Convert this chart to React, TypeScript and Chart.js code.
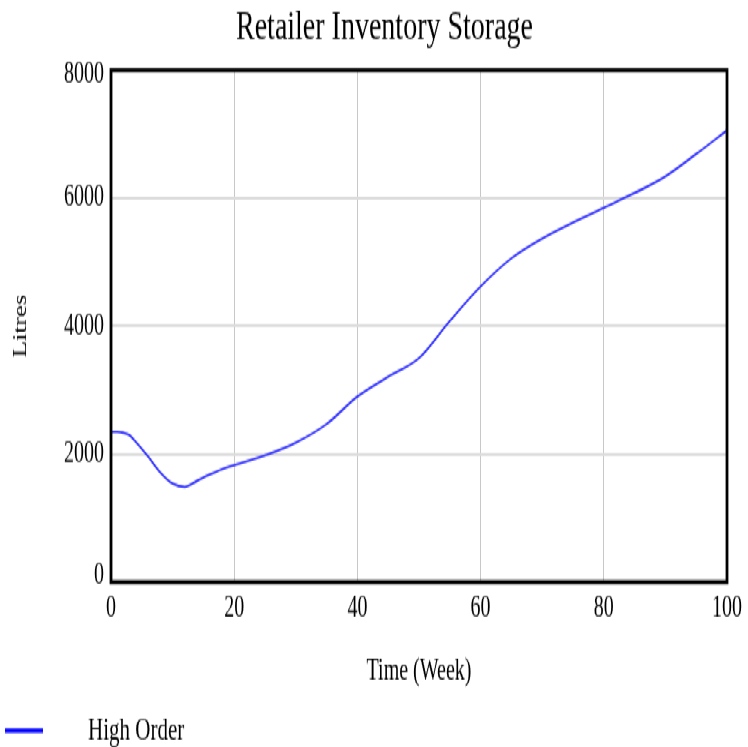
import React, { useEffect, useRef } from "react";
import { Chart, registerables } from "chart.js";

Chart.register(...registerables);

// Simulation output: retailer inventory (litres) over time (weeks)
const weeks = [0, 1, 2, 3, 4, 6, 8, 10, 12, 14, 16, 18, 20, 25, 30, 35, 40, 45, 50, 55, 60, 65, 70, 75, 80, 85, 90, 95, 100];
const highOrder = [2350, 2350, 2335, 2295, 2195, 1965, 1715, 1540, 1490, 1585, 1680, 1765, 1830, 1980, 2180, 2470, 2900, 3210, 3500, 4080, 4620, 5060, 5370, 5620, 5850, 6080, 6340, 6690, 7060];
const seriesName = "High Order";
const titleText = "Retailer Inventory Storage";
const xTitle = "Time (Week)";
const yTitle = "Litres";
const xTickValues = [0, 20, 40, 60, 80, 100];
const yTickValues = [0, 2000, 4000, 6000, 8000];

const SERIF = '"Liberation Serif", "Times New Roman", serif';
const W = 748;
const H = 498;
const STRETCH = 1.5;

// Draws the black frame around the plot and the key under the axes
const frameAndKey = {
  id: "frameAndKey",
  afterDraw(chart: any) {
    const { ctx, chartArea: a } = chart;
    ctx.save();
    ctx.strokeStyle = "#000";
    ctx.lineWidth = 2.8;
    ctx.strokeRect(a.left, a.top, a.right - a.left, a.bottom - a.top);

    const ds = chart.data.datasets[0];
    const ky = chart.height - 11;
    ctx.strokeStyle = "#0000ff";
    ctx.lineWidth = 2.9;
    ctx.beginPath();
    ctx.moveTo(5, ky);
    ctx.lineTo(43, ky);
    ctx.stroke();
    ctx.font = `21px ${SERIF}`;
    ctx.fillStyle = "#000";
    ctx.textBaseline = "middle";
    ctx.textAlign = "left";
    ctx.fillText(ds.label, 88, ky);
    ctx.restore();
  },
};

const yMin = yTickValues[0];
const yMax = yTickValues[yTickValues.length - 1];

// End labels are nudged inside the frame: an empty line above the top
// label and below the bottom one, with a small line height
const yTickLabel = (v: any) => {
  const s = String(v);
  if (v === yMax) return ["", s];
  if (v === yMin) return [s, ""];
  return s;
};
const yTickFont = (c: any) => {
  const v = c.tick ? c.tick.value : null;
  const lineHeight = v === yMax ? 0.27 : v === yMin ? 0.4 : 1.2;
  return { family: SERIF, size: 20, lineHeight };
};

export default function App() {
  const canvasRef = useRef<HTMLCanvasElement | null>(null);

  useEffect(() => {
    const canvas = canvasRef.current;
    if (!canvas) return;
    const chart = new Chart(canvas, {
      type: "line",
      data: {
        datasets: [
          {
            label: seriesName,
            data: weeks.map((w, i) => ({ x: w, y: highOrder[i] })),
            borderColor: "rgb(45,45,255)",
            borderWidth: 1.6,
            pointRadius: 0,
            fill: false,
            cubicInterpolationMode: "monotone",
          },
        ],
      },
      options: {
        responsive: false,
        animation: false,
        devicePixelRatio: 1,
        layout: { padding: { left: 42, right: 21, top: 0, bottom: 30 } },
        plugins: {
          legend: { display: false },
          tooltip: { enabled: false },
          title: {
            display: true,
            text: titleText,
            color: "#000",
            font: { family: SERIF, size: 28, weight: "normal" },
            padding: { top: 1.5, bottom: 11.6 },
          },
        },
        scales: {
          x: {
            type: "linear",
            min: 0,
            max: 100,
            afterBuildTicks: (s: any) => {
              s.ticks = xTickValues.map((v) => ({ value: v }));
            },
            afterFit: (s: any) => {
              s.height = 80;
            },
            ticks: {
              color: "#000",
              font: { family: SERIF, size: 20 },
              padding: 6,
              maxRotation: 0,
              autoSkip: false,
              callback: (v: any) => String(v),
            },
            grid: { color: "#c8c8c8", lineWidth: 1, drawTicks: false },
            border: { display: false },
            title: {
              display: true,
              text: xTitle,
              color: "#000",
              font: { family: SERIF, size: 20 },
              padding: { top: 0, bottom: 8 },
            },
          },
          y: {
            type: "linear",
            min: yMin,
            max: yMax,
            afterBuildTicks: (s: any) => {
              s.ticks = yTickValues.map((v) => ({ value: v }));
            },
            afterFit: (s: any) => {
              s.width = 111 - 42;
            },
            ticks: {
              color: "#000",
              font: yTickFont,
              padding: 7,
              autoSkip: false,
              callback: yTickLabel,
            },
            grid: { color: "#dcdcdc", lineWidth: 2, drawTicks: false },
            border: { display: false },
            title: {
              display: true,
              text: yTitle,
              color: "#000",
              font: { family: SERIF, size: 18 },
              padding: { top: -31.8, bottom: 0 },
            },
          },
        },
      },
      plugins: [frameAndKey],
    } as any);
    return () => chart.destroy();
  }, []);

  return (
    <div
      style={{
        position: "fixed",
        left: 0,
        top: 0,
        width: W,
        height: H,
        background: "#fff",
        transform: `scaleY(${STRETCH})`,
        transformOrigin: "0 0",
      }}
    >
      <canvas ref={canvasRef} width={W} height={H} />
    </div>
  );
}
